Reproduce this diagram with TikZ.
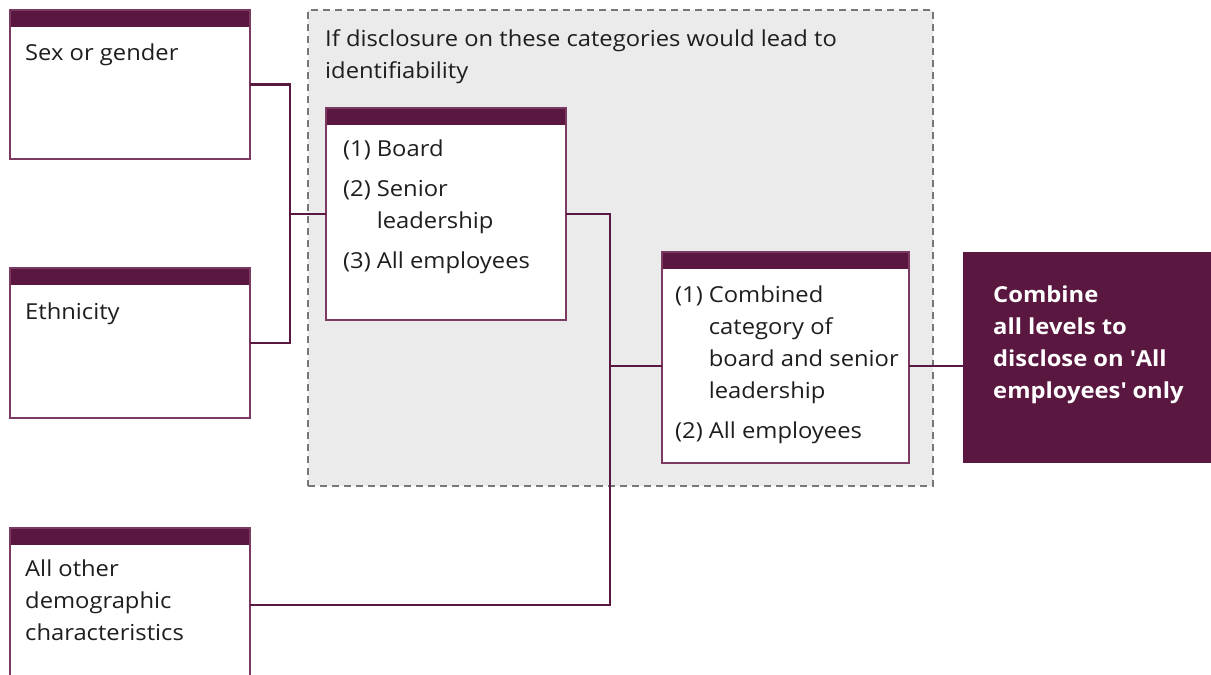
\documentclass[tikz,border=0pt]{standalone}
\usepackage{fontspec}
\setmainfont{Open Sans}[FakeStretch=1.08]
\definecolor{plum}{HTML}{5A1740}
\definecolor{plumline}{HTML}{7B3A62}
\definecolor{shade}{HTML}{EBEBEB}
\definecolor{dashgrey}{HTML}{777777}
\definecolor{ink}{HTML}{1E1E1E}
\begin{document}
\begin{tikzpicture}[x=1pt,y=-1pt,
  region/.style={draw=dashgrey, fill=shade, line width=2pt, dash pattern=on 7pt off 5pt,
    anchor=north west, inner sep=0pt, outer sep=0pt},
  catbox/.style={draw=plumline, line width=1.3pt, fill=white, anchor=north west,
    inner sep=0pt, outer sep=0pt,
    path picture={\fill[plum] (path picture bounding box.north west) rectangle
      ([yshift=-16.5pt]path picture bounding box.north east);}},
  outbox/.style={fill=plum, anchor=north west, inner sep=0pt, outer sep=0pt},
  txt/.style={anchor=base west, inner sep=0pt, text=ink,
    font=\fontsize{22}{32}\selectfont},
  wtxt/.style={anchor=base west, inner sep=0pt, text=white,
    font=\fontsize{22}{32}\selectfont\bfseries},
  conn/.style={draw=plum, line width=2.4pt}
]
\useasboundingbox (0,0) rectangle (1211,675);
% grey dashed region
\node[region, minimum width=625pt, minimum height=476pt] (zone) at (308,10) {};
\node[txt] (zonetxt) at (325,46) {\begin{tabular}[t]{@{}l@{}}If disclosure on these categories would lead to\\identifiability\end{tabular}};
% left category boxes
\node[catbox, minimum width=240pt, minimum height=149pt] (sex) at (10,10) {};
\node[txt] (sextxt) at (25,60) {Sex or gender};
\node[catbox, minimum width=240pt, minimum height=150pt] (eth) at (10,268) {};
\node[txt] (ethtxt) at (25,319) {Ethnicity};
\node[catbox, minimum width=240pt, minimum height=154pt] (other) at (10,528) {};
\node[txt] (othertxt) at (25,576) {\begin{tabular}[t]{@{}l@{}}All other\\demographic\\characteristics\end{tabular}};
% levels box
\node[catbox, minimum width=240pt, minimum height=212pt] (mid) at (326,108) {};
\node[txt] (midtxt) at (343,156) {\begin{tabular}[t]{@{}l@{\hspace{6pt}}l@{}}(1)&Board\\[8pt](2)&Senior\\&leadership\\[8pt](3)&All employees\end{tabular}};
% combined box
\node[catbox, minimum width=247pt, minimum height=211pt] (comb) at (662,252) {};
\node[txt] (combtxt) at (675,302) {\begin{tabular}[t]{@{}l@{\hspace{6pt}}l@{}}(1)&Combined\\&category of\\&board and senior\\&leadership\\[8pt](2)&All employees\end{tabular}};
% outcome box
\node[outbox, minimum width=248pt, minimum height=211pt] (final) at (963,252) {};
\node[wtxt] (finaltxt) at (993,302) {\begin{tabular}[t]{@{}l@{}}Combine\\all levels to\\disclose on \textquotesingle All\\employees\textquotesingle\ only\end{tabular}};
% connectors
\coordinate (bus1) at (290,214);
\coordinate (bus2) at (610,366);
\draw[conn] (sex.east) -| (bus1) |- (eth.east);
\draw[conn] (bus1) -- (mid.west);
\draw[conn] (mid.east) -| (bus2) |- (other.east);
\draw[conn] (bus2) -- (comb.west |- bus2);
\draw[conn] (comb.east |- bus2) -- (final.west |- bus2);
\end{tikzpicture}
\end{document}
